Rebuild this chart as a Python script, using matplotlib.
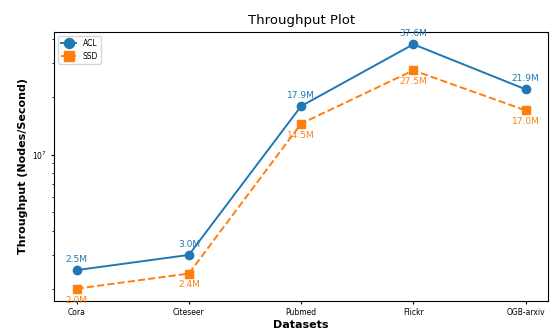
import matplotlib
matplotlib.use('Agg')
import matplotlib.pyplot as plt

datasets = ['Cora', 'Citeseer', 'Pubmed', 'Flickr', 'OGB-arxiv']
acl = [2.5e6, 3.0e6, 17.9e6, 37.6e6, 21.9e6]
ssd = [2.0e6, 2.4e6, 14.5e6, 27.5e6, 17.0e6]

fig, ax = plt.subplots(figsize=(5.53, 3.34), dpi=100)

x = range(len(datasets))
ax.plot(x, acl, marker='o', linestyle='-', color='#1f77b4', linewidth=1.4, markersize=6, label='ACL')
ax.plot(x, ssd, marker='s', linestyle='--', color='#ff7f0e', linewidth=1.4, markersize=6, label='SSD')
ax.set_yscale('log')

# value labels: ACL above, SSD below
for i, v in enumerate(acl):
    ax.annotate(f'{v / 1e6:.1f}M', (i, v), textcoords='offset points', xytext=(0, 4.5),
                ha='center', va='bottom', fontsize=6.5, color='#1f77b4')
for i, v in enumerate(ssd):
    ax.annotate(f'{v / 1e6:.1f}M', (i, v), textcoords='offset points', xytext=(0, -5),
                ha='center', va='top', fontsize=6.5, color='#ff7f0e')

ax.set_xticks(list(x))
ax.set_xticklabels(datasets)
ax.tick_params(axis='both', which='major', labelsize=5.5, length=2.5, pad=2.5)
ax.tick_params(axis='both', which='minor', length=1.5)
ax.set_xlabel('Datasets', fontsize=8, fontweight='bold', labelpad=2)
ax.set_ylabel('Throughput (Nodes/Second)', fontsize=8, fontweight='bold', labelpad=3)
ax.set_title('Throughput Plot', fontsize=9.5)
ax.legend(loc='upper left', fontsize=5.5, markerscale=1.2)

fig.subplots_adjust(left=0.098, right=0.991, top=0.904, bottom=0.099)
fig.savefig('out.png', dpi=100)
